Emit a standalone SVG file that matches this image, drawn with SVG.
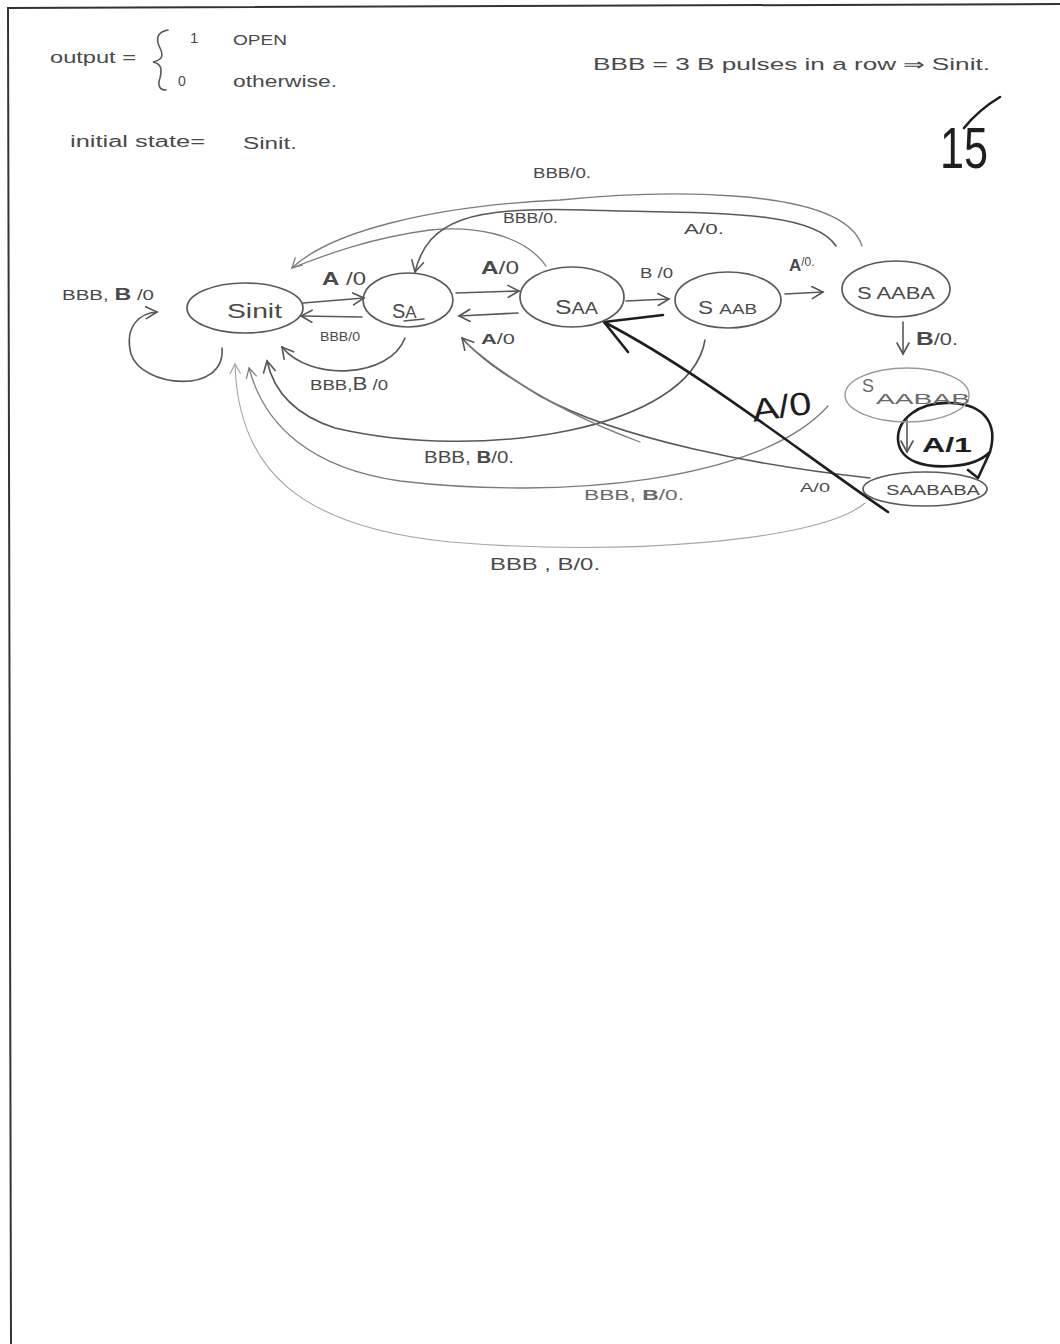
<svg xmlns="http://www.w3.org/2000/svg" width="1060" height="1344" viewBox="0 0 1060 1344">
<defs>
<style>
.t{font-family:"Liberation Sans",Arial,sans-serif;fill:#4a4a4a}
.tl{font-family:"Liberation Sans",Arial,sans-serif;fill:#6a6a6a}
.ti{font-family:"Liberation Sans",Arial,sans-serif;fill:#1e1e1e}
.n{fill:none;stroke:#5a5a5a;stroke-width:1.7}
.nl{fill:none;stroke:#9a9a9a;stroke-width:1.4}
.p{fill:none;stroke:#585858;stroke-width:1.6;stroke-linecap:round}
.pm{fill:none;stroke:#7c7c7c;stroke-width:1.3;stroke-linecap:round}
.pl{fill:none;stroke:#a6a6a6;stroke-width:1.1;stroke-linecap:round}
.ink{fill:none;stroke:#1e1e1e;stroke-width:2.6;stroke-linecap:round;stroke-linejoin:round}
</style>
<marker id="ah" viewBox="0 0 14 14" refX="12" refY="7" markerWidth="14" markerHeight="14" markerUnits="userSpaceOnUse" orient="auto"><path d="M1,1 L12,7 L1,13" fill="none" stroke="#555" stroke-width="1.6" stroke-linecap="round"/></marker>
<marker id="ahm" viewBox="0 0 14 14" refX="12" refY="7" markerWidth="12" markerHeight="12" markerUnits="userSpaceOnUse" orient="auto"><path d="M1,1 L12,7 L1,13" fill="none" stroke="#7c7c7c" stroke-width="1.4" stroke-linecap="round"/></marker>
<marker id="ahl" viewBox="0 0 14 14" refX="12" refY="7" markerWidth="12" markerHeight="12" markerUnits="userSpaceOnUse" orient="auto"><path d="M1,1 L12,7 L1,13" fill="none" stroke="#a0a0a0" stroke-width="1.3" stroke-linecap="round"/></marker>
</defs>
<rect width="1060" height="1344" fill="#ffffff"/>
<!-- page frame -->
<path d="M7,8 L1060,4 M8,8 L11,1344" fill="none" stroke="#333" stroke-width="2"/>

<!-- header notes -->
<g id="notes">
<text class="t" x="50" y="63" font-size="16" textLength="86" lengthAdjust="spacingAndGlyphs">output =</text>
<path d="M168,30 C156,32 156,40 160,48 C164,56 162,60 153,62 C162,64 162,70 160,78 C157,86 160,90 166,90" class="p"/>
<text class="t" x="190" y="43" font-size="15">1</text>
<text class="t" x="233" y="45" font-size="15" textLength="54" lengthAdjust="spacingAndGlyphs">OPEN</text>
<text class="t" x="178" y="86" font-size="14">0</text>
<text class="t" x="233" y="87" font-size="16" textLength="104" lengthAdjust="spacingAndGlyphs">otherwise.</text>
<text class="t" x="70" y="147" font-size="16" textLength="135" lengthAdjust="spacingAndGlyphs">initial state=</text>
<text class="t" x="243" y="149" font-size="16" textLength="54" lengthAdjust="spacingAndGlyphs">Sinit.</text>
<text class="t" x="593" y="70" font-size="16" textLength="397" lengthAdjust="spacingAndGlyphs">BBB = 3 B pulses in a row ⇒ Sinit.</text>
<text class="ti" x="940" y="168" font-size="58" textLength="48" lengthAdjust="spacingAndGlyphs" font-weight="300">15</text>
<path d="M964,128 C976,113 990,103 1000,97" class="ink" stroke-width="2.4"/>
</g>

<!-- connectors -->
<g id="connectors">
<!-- top arcs -->
<path class="pm" d="M862,246 C842,182 640,192 560,200 C430,206 330,232 292,268" marker-end="url(#ahm)"/>
<path class="pm" d="M546,266 C522,232 470,226 430,230 C370,238 325,255 292,268"/>
<path class="p" d="M836,246 C812,208 700,214 585,210 C470,206 428,220 415,272" marker-end="url(#ah)"/>
<!-- horizontal chain -->
<path class="p" d="M303,303 L364,298" marker-end="url(#ah)"/>
<path class="p" d="M362,317 L301,316" marker-end="url(#ah)"/>
<path class="p" d="M456,293 L519,291" marker-end="url(#ah)"/>
<path class="p" d="M518,313 L459,316" marker-end="url(#ah)"/>
<path class="p" d="M626,301 L669,299" marker-end="url(#ah)"/>
<path class="p" d="M785,294 L823,292" marker-end="url(#ah)"/>
<path class="p" d="M903,322 L903,354" marker-end="url(#ah)"/>
<!-- self loop Sinit -->
<path class="p" d="M222,348 C226,395 142,388 131,354 C124,326 140,313 157,312" marker-end="url(#ah)"/>
<!-- SA -> Sinit below -->
<path class="p" d="M405,338 C390,378 310,382 282,347" marker-end="url(#ah)"/>
<!-- SAAB -> Sinit -->
<path class="p" d="M705,340 C690,430 480,462 335,428 C292,414 273,388 267,361" marker-end="url(#ah)"/>
<!-- SAABAB -> Sinit -->
<path class="pm" d="M828,406 C760,482 560,500 400,481 C310,468 264,425 249,368" marker-end="url(#ahm)"/>
<!-- SAABABA -> Sinit -->
<path class="pl" d="M865,503 C820,542 620,556 450,542 C300,527 238,470 235,364" marker-end="url(#ahl)"/>
<!-- SAABABA -> SA -->
<path class="p" d="M870,478 C760,466 620,440 540,396 C500,372 478,356 462,338" marker-end="url(#ah)"/>
<path class="pm" d="M466,343 C520,390 580,420 640,442"/>
<!-- thick ink SAABABA -> SAA -->
<path class="ink" d="M888,512 C800,452 700,372 604,322"/>
<path class="ink" d="M604,322 L663,315 M604,322 L628,352"/>
<!-- SAABAB -> SAABABA -->
<path class="p" d="M907,420 L907,452" marker-end="url(#ah)"/>
<path class="ink" d="M978,478 L990,452 C998,424 985,405 952,403 C918,401 897,420 898,440 C900,462 925,468 952,466 C970,465 982,460 990,452 M978,478 L968,470"/>
</g>

<!-- edge labels -->
<g id="labels">
<text class="t" x="533" y="178" font-size="15" textLength="58" lengthAdjust="spacingAndGlyphs">BBB/0.</text>
<text class="t" x="503" y="223" font-size="14" textLength="55" lengthAdjust="spacingAndGlyphs">BBB/0.</text>
<text class="t" x="684" y="234" font-size="15" textLength="40" lengthAdjust="spacingAndGlyphs">A/0.</text>
<text class="t" x="62" y="300" font-size="15" textLength="92" lengthAdjust="spacingAndGlyphs">BBB, <tspan font-weight="bold" font-size="17">B</tspan> /0</text>
<text class="t" x="322" y="285" font-size="19" textLength="44" lengthAdjust="spacingAndGlyphs"><tspan font-weight="bold">A</tspan> /0</text>
<text class="t" x="320" y="341" font-size="12" textLength="40" lengthAdjust="spacingAndGlyphs">BBB/0</text>
<text class="t" x="310" y="390" font-size="15" textLength="78" lengthAdjust="spacingAndGlyphs">BBB,<tspan font-size="18">B</tspan> /0</text>
<text class="t" x="481" y="274" font-size="19" textLength="38" lengthAdjust="spacingAndGlyphs"><tspan font-weight="bold">A</tspan>/0</text>
<text class="t" x="481" y="344" font-size="15" textLength="34" lengthAdjust="spacingAndGlyphs"><tspan font-weight="bold">A</tspan>/0</text>
<text class="t" x="640" y="278" font-size="14" textLength="33" lengthAdjust="spacingAndGlyphs">B /0</text>
<text class="t" x="789" y="271" font-size="17"><tspan font-weight="bold">A</tspan><tspan font-size="12" dy="-5">/0.</tspan></text>
<text class="t" x="916" y="345" font-size="16" textLength="42" lengthAdjust="spacingAndGlyphs"><tspan font-weight="bold" font-size="18">B</tspan>/0.</text>
<text class="ti" x="922" y="452" font-size="21" font-weight="bold" textLength="50" lengthAdjust="spacingAndGlyphs">A/1</text>
<text class="ti" x="752" y="418" font-size="32" textLength="60" lengthAdjust="spacingAndGlyphs" transform="rotate(-8 780 410)">A/0</text>
<text class="t" x="800" y="492" font-size="13" textLength="30" lengthAdjust="spacingAndGlyphs">A/0</text>
<text class="t" x="424" y="463" font-size="16" textLength="90" lengthAdjust="spacingAndGlyphs">BBB, <tspan font-weight="bold">B</tspan>/0.</text>
<text class="tl" x="584" y="500" font-size="15" textLength="100" lengthAdjust="spacingAndGlyphs">BBB, <tspan font-weight="bold">B</tspan>/0.</text>
<text class="t" x="490" y="570" font-size="16" textLength="110" lengthAdjust="spacingAndGlyphs">BBB , B/0.</text>
</g>

<!-- nodes -->
<g id="Sinit"><ellipse class="n" cx="245" cy="308" rx="58" ry="25"/><text class="t" x="227" y="318" font-size="20" textLength="55" lengthAdjust="spacingAndGlyphs">Sinit</text></g>
<g id="SA"><ellipse class="n" cx="408" cy="300" rx="45" ry="27"/><text class="t" x="392" y="318" font-size="20">S<tspan font-size="17">A</tspan></text><path d="M404,321 L424,319" class="p"/></g>
<g id="SAA"><ellipse class="n" cx="572" cy="297" rx="52" ry="30"/><text class="t" x="555" y="314" font-size="20" textLength="43" lengthAdjust="spacingAndGlyphs">S<tspan font-size="16">AA</tspan></text></g>
<g id="SAAB"><ellipse class="n" cx="728" cy="300" rx="53" ry="28"/><text class="t" x="698" y="314" font-size="18" textLength="59" lengthAdjust="spacingAndGlyphs">S <tspan font-size="15">AAB</tspan></text></g>
<g id="SAABA"><ellipse class="n" cx="896" cy="289" rx="54" ry="28"/><text class="t" x="857" y="299" font-size="16" textLength="78" lengthAdjust="spacingAndGlyphs">S <tspan font-size="16">AABA</tspan></text></g>
<g id="SAABAB"><ellipse class="nl" cx="907" cy="395" rx="62" ry="27"/><text class="tl" x="862" y="392" font-size="18">S</text><text class="tl" x="876" y="404" font-size="14" textLength="94" lengthAdjust="spacingAndGlyphs">AABAB</text></g>
<g id="SAABABA"><ellipse class="n" cx="925" cy="489" rx="62" ry="17"/><text class="t" x="886" y="495" font-size="14" textLength="94" lengthAdjust="spacingAndGlyphs">SAABABA</text></g>
</svg>
